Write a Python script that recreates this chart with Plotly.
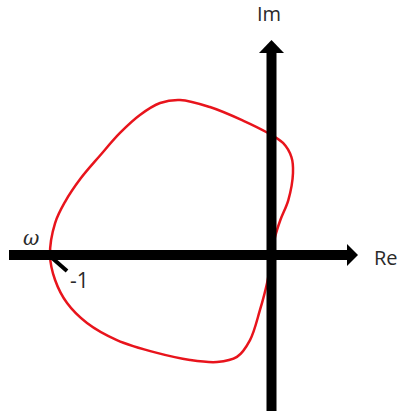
import plotly.graph_objects as go

# Nyquist contour, G(jw) sampled around the loop (real part, imaginary part)
re_vals = [-1.000, -0.977, -0.932, -0.862, -0.775, -0.684, -0.594, -0.503,
           -0.413, -0.278, -0.129, -0.020, 0.052, 0.090, 0.097, 0.076,
           0.040, 0.016, 0.005, -0.020, -0.052, -0.097, -0.156, -0.246,
           -0.368, -0.517, -0.698, -0.833, -0.923, -0.977, -1.000]
im_vals = [0.000, 0.144, 0.240, 0.345, 0.448, 0.551, 0.632, 0.686,
           0.700, 0.668, 0.607, 0.553, 0.506, 0.442, 0.370, 0.248,
           0.158, 0.081, 0.014, -0.126, -0.248, -0.384, -0.460, -0.483,
           -0.474, -0.442, -0.384, -0.307, -0.217, -0.113, 0.000]

W, H = 397, 411
X0, Y0 = 271.5, 255.0   # origin in pixels
S = 221.5               # pixels per unit


def px(x):
    return (x - X0) / S


def py(y):
    return (Y0 - y) / S


fig = go.Figure()

fig.add_trace(go.Scatter(
    x=re_vals, y=im_vals, mode="lines",
    line=dict(color="#e8141c", width=2.5, shape="spline", smoothing=1.0),
    hoverinfo="skip", showlegend=False,
))

shapes = [
    # real axis shaft and arrowhead
    dict(type="line", x0=px(9), y0=py(255), x1=px(348), y1=py(255),
         line=dict(color="black", width=10)),
    dict(type="path",
         path=f"M {px(347)},{py(244)} L {px(358)},{py(255)} L {px(347)},{py(266)} Z",
         fillcolor="black", line=dict(color="black", width=0)),
    # imaginary axis shaft and arrowhead
    dict(type="line", x0=px(271.5), y0=py(411), x1=px(271.5), y1=py(51),
         line=dict(color="black", width=10)),
    dict(type="path",
         path=f"M {px(259)},{py(53)} L {px(271.5)},{py(40)} L {px(284)},{py(53)} Z",
         fillcolor="black", line=dict(color="black", width=0)),
    # marker at -1
    dict(type="line", x0=px(51), y0=py(257), x1=px(67), y1=py(271),
         line=dict(color="black", width=4)),
]

font = "Open Sans, DejaVu Sans, sans-serif"
annotations = [
    dict(x=px(269), y=py(13), text="Im", showarrow=False,
         font=dict(size=20, color="#2a2a2a", family=font)),
    dict(x=px(372), y=py(257), text="Re", showarrow=False, xanchor="left",
         font=dict(size=20, color="#2a2a2a", family=font)),
    dict(x=px(31), y=py(238), text="<i>ω</i>", showarrow=False,
         font=dict(size=20, color="#2a2a2a", family="DejaVu Serif, serif")),
    dict(x=px(68), y=py(280), text="-1", showarrow=False, xanchor="left",
         font=dict(size=21, color="#2a2a2a", family=font)),
]

fig.update_layout(
    width=W, height=H, margin=dict(l=0, r=0, t=0, b=0),
    paper_bgcolor="white", plot_bgcolor="white",
    shapes=shapes, annotations=annotations, showlegend=False,
    xaxis=dict(range=[px(0), px(W)], visible=False, fixedrange=True),
    yaxis=dict(range=[py(H), py(0)], visible=False, fixedrange=True),
)

fig.write_html("out.html", config={"displayModeBar": False})
